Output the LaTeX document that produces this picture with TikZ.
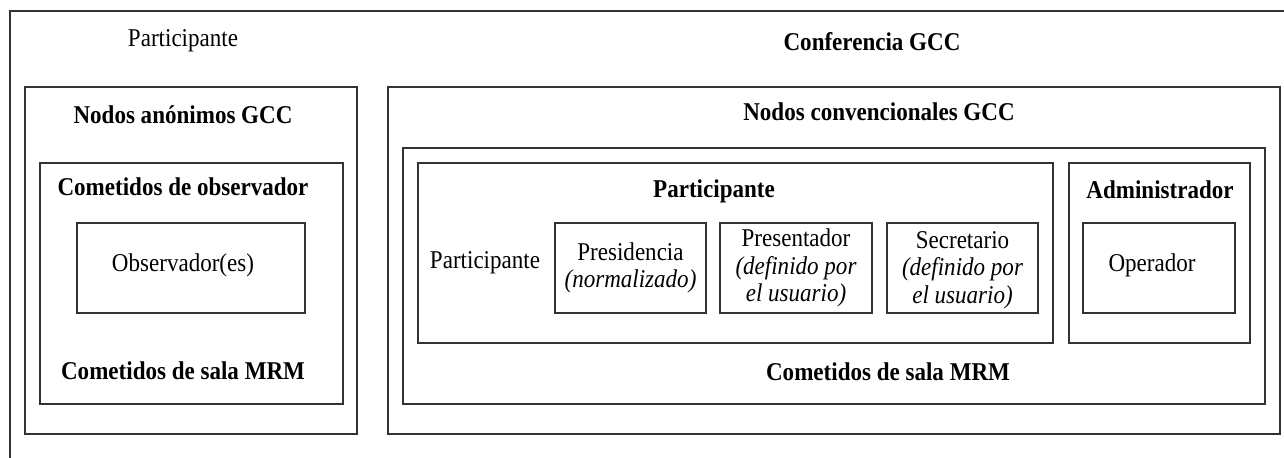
\documentclass[tikz,border=0pt]{standalone}
\usepackage{fontspec}
\setmainfont{Liberation Serif}[FakeStretch=0.9]
\usetikzlibrary{fit,positioning}
\tikzset{
    role-box/.style = {draw=black!80, line width=0.8pt, rectangle, inner sep=0pt},
    role-title/.style = {font=\fontsize{12.8pt}{13.8pt}\selectfont\bfseries, inner sep=0pt},
    role-text/.style = {font=\fontsize{12.8pt}{13.8pt}\selectfont, align=center, inner sep=0pt},
}

\begin{document}
\begin{tikzpicture}[x=0.5pt, y=-0.5pt]
\useasboundingbox (0,0) rectangle (1284,458);
\clip (0,0) rectangle (1284,458);
% conference frame, cut by the page on the right and at the bottom
\node[role-box, fit={(10,11) (1300,480)}] (conf) {};
\node[role-text] (conf-part) at (183,41) {Participante};
\node[role-title] (conf-title) at (872,42) {Conferencia GCC};

% anonymous nodes
\node[role-box, fit={(25,87) (357,434)}] (anon) {};
\node[role-box, fit={(40,163) (343,404)}] (obs) {};
\node[role-box, fit={(77,223) (305,313)}] (obs-role) {};
\node[role-title] (anon-title) at (183,115) {Nodos anónimos GCC};
\node[role-title] (obs-title) at (183,187) {Cometidos de observador};
\node[role-text] (obs-text) at (183,265) {Observador(es)};
\node[role-title] (anon-mrm) at (183,371) {Cometidos de sala MRM};

% conventional nodes
\node[role-box, fit={(388,87) (1280,434)}] (conv) {};
\node[role-box, fit={(403,148) (1265,404)}] (mrm) {};
\node[role-box, fit={(418,163) (1053,343)}] (part) {};
\node[role-box, fit={(1069,163) (1250,343)}] (admin) {};
\node[role-title] (conv-title) at (879,112) {Nodos convencionales GCC};
\node[role-title] (part-title) at (714,191) {Participante};
\node[role-text] (part-text) at (485,263) {Participante};
\node[role-box, fit={(555,223) (706,313)}] (chair) {};
\node[role-box, fit={(720,223) (872,313)}] (presenter) {};
\node[role-box, fit={(887,223) (1038,313)}] (secretary) {};
\node[role-text] at (chair.center) {Presidencia\\\textit{(normalizado)}};
\node[role-text] at (presenter.center) {Presentador\\\textit{(definido por}\\\textit{el usuario)}};
\node[role-text] at ([yshift=-1]secretary.center) {Secretario\\\textit{(definido por}\\\textit{el usuario)}};
\node[role-title] (admin-title) at (1160,190) {Administrador};
\node[role-box, fit={(1083,223) (1235,313)}] (operator) {};
\node[role-text] (operator-text) at (1152,265) {Operador};
\node[role-title] (conv-mrm) at (888,372) {Cometidos de sala MRM};
\end{tikzpicture}
\end{document}
